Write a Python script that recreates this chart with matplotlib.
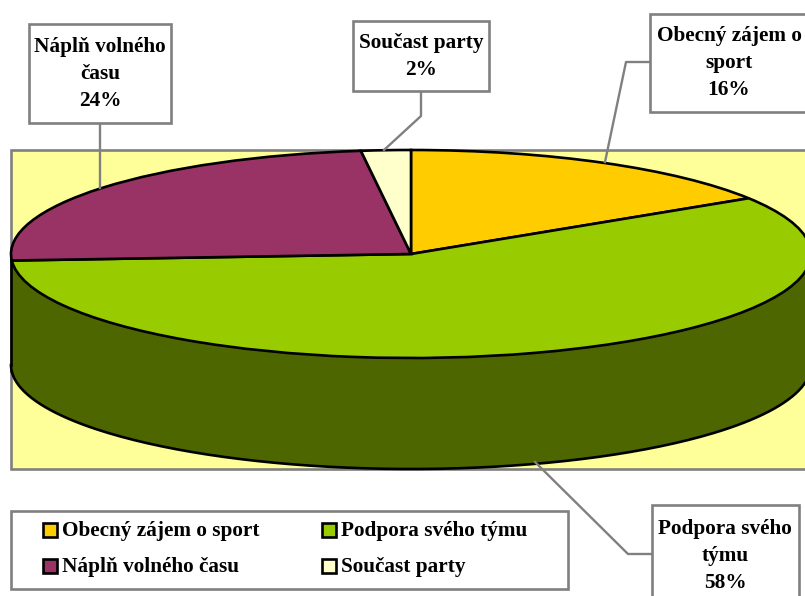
import numpy as np
import matplotlib
matplotlib.use("Agg")
import matplotlib.pyplot as plt
from matplotlib.patches import Wedge, Rectangle, Polygon
from matplotlib.transforms import Affine2D

labels = ["Obecný zájem o sport", "Podpora svého týmu", "Náplň volného času", "Součast party"]
values = [16, 58, 24, 2]
callouts = ["Obecný zájem o\nsport\n16%", "Podpora svého\ntýmu\n58%", "Náplň volného\nčasu\n24%", "Součast party\n2%"]
colors = ["#FFCC00", "#99CC00", "#993366", "#FFFFCC"]
wall_colors = ["#806600", "#4D6600", "#4D1A33", "#808066"]

W, H = 805, 596
GREY = "#808080"

plt.rcParams["font.family"] = ["Liberation Serif", "DejaVu Serif"]

fig = plt.figure(figsize=(W / 100, H / 100), dpi=100)
ax = fig.add_axes([0, 0, 1, 1])
ax.set_xlim(0, W)
ax.set_ylim(H, 0)  # pixelove souradnice
ax.axis("off")

# zluta plocha grafu
ax.add_patch(Rectangle((11, 150), 810, 319, fc="#FFFF99", ec=GREY, lw=1.9, zorder=1))

cx, cy, rx, ry, depth = 411, 254, 400, 104, 111
# y osa je otocena, takze kladny uhel jde po smeru hodin
pie = Affine2D().scale(rx, ry).translate(cx, cy) + ax.transData

# bocni stena, jen predni pulka elipsy
start = -90.0
edges = start + np.cumsum([0] + values) * 3.6
for i in range(len(values)):
    a, b = max(edges[i], 0), min(edges[i + 1], 180)
    if b <= a:
        continue
    t = np.radians(np.linspace(a, b, 200))
    x = cx + rx * np.cos(t)
    y = cy + ry * np.sin(t)
    pts = np.r_[np.c_[x, y], np.c_[x, y + depth][::-1]]
    ax.add_patch(Polygon(pts, fc=wall_colors[i], ec="none", zorder=2))
    ax.plot(x, y + depth, color="black", lw=1.9, zorder=3)
ax.plot([cx - rx, cx - rx], [cy, cy + depth], color="black", lw=1.9, zorder=3)

# vrchni plocha
for i in range(len(values)):
    ax.add_patch(Wedge((0, 0), 1, edges[i], edges[i + 1], fc=colors[i], ec="black",
                       lw=1.9, transform=pie, zorder=4))

# popisky s vodici carou
boxes = [(650, 14, 170, 98), (652, 505, 147, 110), (29, 24, 142, 99), (353, 21, 136, 70)]
leaders = [
    ([650, 626, 605], [62, 62, 162]),
    ([652, 628, 535], [554, 554, 462]),
    ([100, 100], [123, 188]),
    ([421, 421, 384], [91, 116, 150]),
]
text_y = [63, 556, 74, 56.5]
text_x = [729, 725, 100, 421]
for i in range(len(callouts)):
    x, y, w, h = boxes[i]
    lx, ly = leaders[i]
    ax.plot(lx, ly, color=GREY, lw=1.7, zorder=5)
    ax.add_patch(Rectangle((x, y), w, h, fc="white", ec=GREY, lw=1.9, zorder=6))
    ax.text(text_x[i], text_y[i], callouts[i], ha="center", va="center", fontsize=15.3,
            fontweight="bold", linespacing=1.45, color="black", zorder=7)

# legenda
ax.add_patch(Rectangle((11, 511), 557, 78, fc="white", ec=GREY, lw=1.9, zorder=6))
leg_x = [43, 322, 43, 322]
leg_y = [530, 530, 566, 566]
for i in range(len(labels)):
    ax.add_patch(Rectangle((leg_x[i], leg_y[i] - 7), 14, 14, fc=colors[i], ec="black", lw=1.9, zorder=7))
    ax.text(leg_x[i] + 19, leg_y[i] + 1, labels[i], ha="left", va="center", fontsize=15.3,
            fontweight="bold", color="black", zorder=7)

fig.savefig("out.png", dpi=100, facecolor="white")
